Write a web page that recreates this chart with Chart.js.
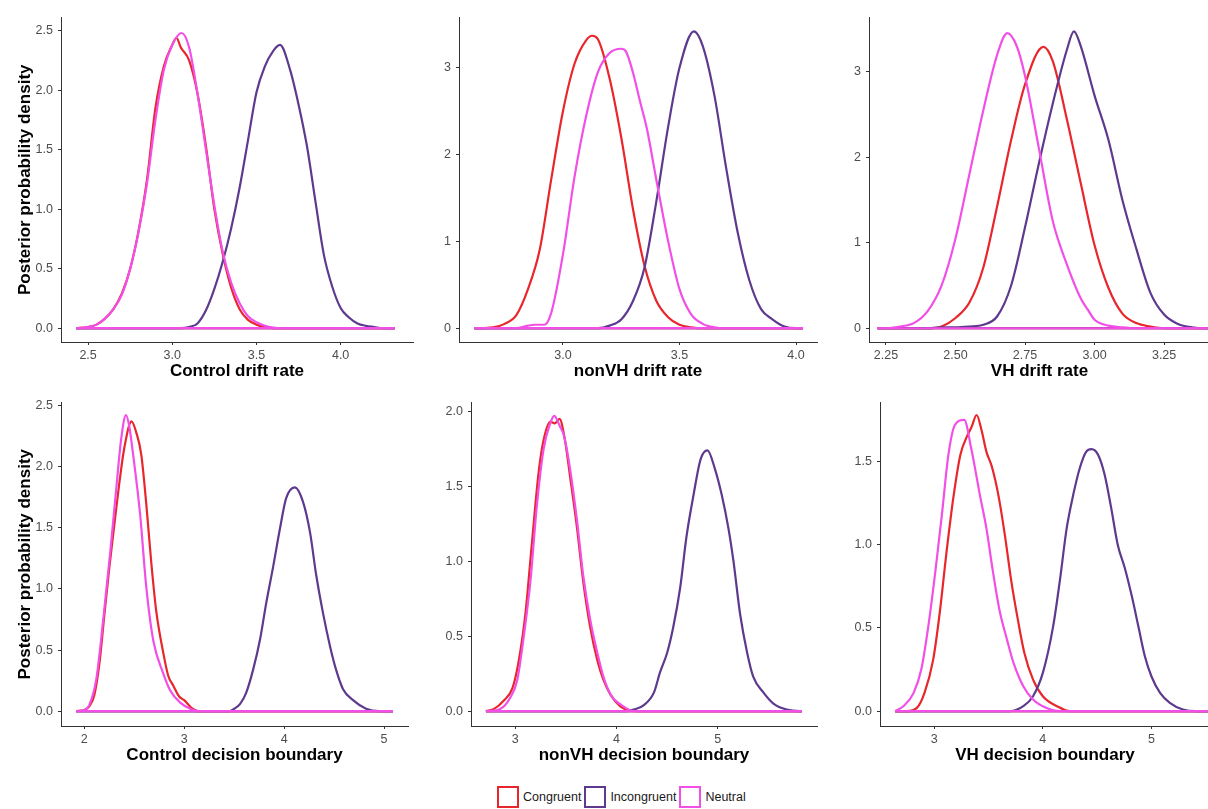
<!DOCTYPE html>
<html>
<head>
<meta charset="utf-8">
<script src="https://cdn.jsdelivr.net/npm/chart.js@4"></script>
<style>
  body { margin: 0; background: #fff; width: 1208px; height: 809px; overflow: hidden; position: relative; font-family: "Liberation Sans", Arial, sans-serif; }
  canvas { position: absolute; }
  #legend { position: absolute; left: 497px; top: 786px; display: flex; align-items: center; font-size: 12.5px; color: #1a1a1a; }
  #legend .box { width: 18px; height: 18px; border: 2.5px solid; margin-right: 4px; }
  #legend .lab { margin-right: 3px; }
</style>
</head>
<body>
<div id="legend"></div>
<script>
// Series order in every panel
const seriesNames = ['Congruent', 'Incongruent', 'Neutral'];
const colors = { Congruent: '#e8262b', Incongruent: '#5e3a8e', Neutral: '#f24fe6' };

// Control drift rate: [x, density]
const controlDriftCongruent = [[2.43,0],[2.50,0.01],[2.55,0.03],[2.60,0.08],[2.65,0.16],[2.70,0.29],[2.75,0.50],[2.80,0.82],[2.85,1.25],[2.90,1.85],[2.95,2.20],[3.00,2.38],[3.025,2.44],[3.05,2.36],[3.10,2.25],[3.15,1.97],[3.20,1.53],[3.25,1.00],[3.30,0.62],[3.35,0.34],[3.40,0.16],[3.45,0.07],[3.50,0.03],[3.55,0.01],[3.60,0],[4.32,0]];
const controlDriftIncongruent = [[2.43,0],[3.05,0],[3.10,0.01],[3.15,0.04],[3.20,0.15],[3.25,0.33],[3.30,0.56],[3.35,0.84],[3.40,1.18],[3.45,1.58],[3.50,1.98],[3.55,2.20],[3.60,2.33],[3.64,2.38],[3.70,2.17],[3.75,1.88],[3.80,1.53],[3.85,1.07],[3.90,0.62],[3.95,0.35],[4.00,0.17],[4.05,0.09],[4.10,0.04],[4.15,0.02],[4.20,0.01],[4.25,0],[4.32,0]];
const controlDriftNeutral = [[2.43,0],[2.50,0.01],[2.55,0.03],[2.60,0.08],[2.65,0.16],[2.70,0.28],[2.75,0.50],[2.80,0.81],[2.85,1.22],[2.90,1.75],[2.95,2.17],[3.00,2.38],[3.055,2.48],[3.10,2.36],[3.15,1.97],[3.20,1.50],[3.25,1.03],[3.30,0.64],[3.35,0.38],[3.40,0.21],[3.45,0.10],[3.50,0.05],[3.55,0.02],[3.60,0.005],[3.65,0],[4.32,0]];

// nonVH drift rate
const nonVHDriftCongruent = [[2.62,0],[2.70,0.01],[2.75,0.05],[2.80,0.15],[2.85,0.45],[2.90,0.9],[2.95,1.72],[3.00,2.5],[3.05,3.05],[3.10,3.32],[3.125,3.37],[3.15,3.33],[3.20,2.88],[3.25,2.2],[3.30,1.38],[3.35,0.72],[3.40,0.32],[3.45,0.13],[3.50,0.04],[3.55,0.01],[3.60,0],[4.03,0]];
const nonVHDriftIncongruent = [[2.62,0],[3.15,0],[3.20,0.03],[3.25,0.1],[3.30,0.31],[3.35,0.7],[3.40,1.45],[3.45,2.3],[3.50,3.0],[3.562,3.42],[3.60,3.25],[3.65,2.68],[3.70,1.85],[3.75,1.1],[3.80,0.55],[3.85,0.22],[3.90,0.1],[3.95,0.02],[4.00,0],[4.03,0]];
const nonVHDriftNeutral = [[2.62,0],[2.80,0],[2.85,0.03],[2.88,0.04],[2.92,0.04],[2.95,0.18],[3.00,0.85],[3.05,1.75],[3.10,2.45],[3.15,2.95],[3.20,3.17],[3.25,3.22],[3.27,3.19],[3.30,2.95],[3.33,2.62],[3.36,2.3],[3.40,1.72],[3.45,1.02],[3.50,0.45],[3.55,0.16],[3.60,0.05],[3.65,0.01],[3.70,0],[4.03,0]];

// VH drift rate
const vhDriftCongruent = [[2.22,0],[2.40,0],[2.45,0.02],[2.50,0.12],[2.55,0.3],[2.60,0.71],[2.65,1.43],[2.70,2.2],[2.75,2.85],[2.816,3.29],[2.85,3.12],[2.90,2.45],[2.95,1.7],[3.00,0.97],[3.05,0.47],[3.10,0.17],[3.15,0.06],[3.20,0.02],[3.25,0],[3.50,0]];
const vhDriftIncongruent = [[2.22,0],[2.40,0],[2.45,0.01],[2.50,0.01],[2.55,0.02],[2.60,0.04],[2.65,0.14],[2.70,0.5],[2.75,1.18],[2.80,1.93],[2.85,2.63],[2.90,3.25],[2.926,3.47],[2.95,3.3],[3.00,2.72],[3.05,2.2],[3.10,1.5],[3.15,0.93],[3.20,0.42],[3.25,0.16],[3.30,0.05],[3.35,0.01],[3.40,0],[3.50,0]];
const vhDriftNeutral = [[2.22,0],[2.25,0],[2.30,0.02],[2.35,0.06],[2.40,0.2],[2.45,0.5],[2.50,1.05],[2.55,1.8],[2.60,2.55],[2.65,3.2],[2.686,3.45],[2.72,3.3],[2.75,2.95],[2.80,2.1],[2.85,1.25],[2.90,0.75],[2.95,0.35],[2.975,0.22],[3.00,0.1],[3.05,0.03],[3.10,0.01],[3.15,0],[3.50,0]];

// Control decision boundary
const controlBoundaryCongruent = [[1.92,0],[2.00,0.01],[2.05,0.04],[2.10,0.13],[2.15,0.38],[2.20,0.78],[2.25,1.17],[2.30,1.52],[2.35,1.86],[2.40,2.15],[2.473,2.37],[2.52,2.28],[2.57,2.1],[2.62,1.7],[2.67,1.22],[2.72,0.82],[2.79,0.48],[2.84,0.29],[2.89,0.21],[2.95,0.12],[3.00,0.09],[3.07,0.03],[3.15,0],[5.09,0]];
const controlBoundaryIncongruent = [[1.92,0],[3.45,0],[3.50,0.02],[3.56,0.06],[3.62,0.15],[3.69,0.34],[3.76,0.59],[3.82,0.88],[3.89,1.18],[3.96,1.5],[4.02,1.74],[4.107,1.83],[4.19,1.71],[4.26,1.46],[4.32,1.12],[4.39,0.8],[4.46,0.53],[4.52,0.34],[4.59,0.18],[4.69,0.09],[4.82,0.02],[4.95,0],[5.09,0]];
const controlBoundaryNeutral = [[1.92,0],[2.00,0.01],[2.05,0.05],[2.12,0.26],[2.19,0.75],[2.26,1.3],[2.32,1.82],[2.37,2.23],[2.417,2.42],[2.45,2.33],[2.49,2.09],[2.56,1.6],[2.62,1.02],[2.69,0.58],[2.79,0.31],[2.86,0.17],[2.96,0.07],[3.06,0.02],[3.15,0],[5.09,0]];

// nonVH decision boundary
const nonVHBoundaryCongruent = [[2.71,0],[2.79,0.015],[2.885,0.07],[2.97,0.15],[3.03,0.32],[3.10,0.65],[3.16,1.09],[3.23,1.59],[3.28,1.81],[3.345,1.93],[3.39,1.92],[3.437,1.95],[3.49,1.81],[3.54,1.57],[3.61,1.22],[3.67,0.87],[3.74,0.56],[3.81,0.34],[3.87,0.21],[3.94,0.11],[4.04,0.03],[4.13,0.005],[4.20,0],[5.83,0]];
const nonVHBoundaryIncongruent = [[2.71,0],[4.10,0],[4.17,0.01],[4.27,0.04],[4.37,0.125],[4.43,0.26],[4.50,0.39],[4.56,0.56],[4.63,0.83],[4.69,1.16],[4.76,1.44],[4.83,1.68],[4.898,1.74],[4.97,1.62],[5.04,1.44],[5.105,1.22],[5.155,1.0],[5.22,0.65],[5.29,0.39],[5.35,0.23],[5.45,0.125],[5.55,0.05],[5.68,0.01],[5.81,0],[5.83,0]];
const nonVHBoundaryNeutral = [[2.71,0],[2.85,0.015],[2.95,0.09],[3.02,0.21],[3.08,0.48],[3.15,0.87],[3.21,1.35],[3.28,1.75],[3.345,1.92],[3.385,1.97],[3.44,1.90],[3.48,1.84],[3.54,1.62],[3.61,1.27],[3.67,0.91],[3.74,0.61],[3.81,0.39],[3.87,0.23],[3.95,0.10],[4.05,0.04],[4.17,0],[5.83,0]];

// VH decision boundary
const vhBoundaryCongruent = [[2.64,0],[2.745,0],[2.84,0.02],[2.91,0.11],[2.99,0.31],[3.05,0.59],[3.11,0.94],[3.175,1.28],[3.24,1.54],[3.30,1.65],[3.345,1.71],[3.39,1.78],[3.435,1.69],[3.48,1.56],[3.53,1.47],[3.59,1.30],[3.65,1.06],[3.71,0.78],[3.77,0.55],[3.83,0.35],[3.91,0.19],[4.00,0.09],[4.13,0.03],[4.25,0],[5.65,0]];
const vhBoundaryIncongruent = [[2.64,0],[3.70,0],[3.82,0.03],[3.91,0.09],[4.00,0.23],[4.095,0.51],[4.156,0.78],[4.22,1.10],[4.28,1.30],[4.34,1.46],[4.40,1.56],[4.448,1.575],[4.51,1.54],[4.57,1.42],[4.63,1.22],[4.69,1.0],[4.755,0.86],[4.82,0.69],[4.88,0.51],[4.94,0.33],[5.00,0.21],[5.08,0.11],[5.17,0.05],[5.29,0.01],[5.41,0],[5.65,0]];
const vhBoundaryNeutral = [[2.64,0],[2.715,0.03],[2.81,0.11],[2.88,0.25],[2.945,0.51],[3.01,0.84],[3.07,1.18],[3.13,1.54],[3.19,1.72],[3.276,1.75],[3.34,1.58],[3.42,1.30],[3.48,1.10],[3.54,0.84],[3.60,0.61],[3.67,0.43],[3.73,0.29],[3.82,0.15],[3.91,0.07],[4.03,0.02],[4.16,0],[5.65,0]];

// Tick labels
const controlDriftXTicks = ['2.5', '3.0', '3.5', '4.0'];
const nonVHDriftXTicks = ['3.0', '3.5', '4.0'];
const vhDriftXTicks = ['2.25', '2.50', '2.75', '3.00', '3.25'];
const boundaryXTicks = ['2', '3', '4', '5'];
const nonVHBoundaryXTicks = ['3', '4', '5'];
const vhBoundaryXTicks = ['3', '4', '5'];
const controlDriftYTicks = ['0.0', '0.5', '1.0', '1.5', '2.0', '2.5'];
const driftYTicks = ['0', '1', '2', '3'];
const controlBoundaryYTicks = ['0.0', '0.5', '1.0', '1.5', '2.0', '2.5'];
const nonVHBoundaryYTicks = ['0.0', '0.5', '1.0', '1.5', '2.0'];
const vhBoundaryYTicks = ['0.0', '0.5', '1.0', '1.5'];

const yTitle = 'Posterior probability density';
const family = '"Liberation Sans", Arial, sans-serif';

// area = chart area [left, top, right, bottom] on the page
const panels = [
    { area: [61, 13, 413, 342], x: [2.339, 4.43], y: [-0.116, 2.61], xTicks: controlDriftXTicks, yTicks: controlDriftYTicks,
      xTitle: 'Control drift rate', showY: true, series: [controlDriftCongruent, controlDriftIncongruent, controlDriftNeutral] },
    { area: [459, 13, 817, 342], x: [2.554, 4.09], y: [-0.159, 3.58], xTicks: nonVHDriftXTicks, yTicks: driftYTicks,
      xTitle: 'nonVH drift rate', showY: false, series: [nonVHDriftCongruent, nonVHDriftIncongruent, nonVHDriftNeutral] },
    { area: [869, 13, 1210, 342], x: [2.189, 3.415], y: [-0.161, 3.633], xTicks: vhDriftXTicks, yTicks: driftYTicks,
      xTitle: 'VH drift rate', showY: false, series: [vhDriftCongruent, vhDriftIncongruent, vhDriftNeutral] },
    { area: [61, 398, 408, 726], x: [1.767, 5.24], y: [-0.121, 2.524], xTicks: boundaryXTicks, yTicks: controlBoundaryYTicks,
      xTitle: 'Control decision boundary', showY: true, series: [controlBoundaryCongruent, controlBoundaryIncongruent, controlBoundaryNeutral] },
    { area: [471, 398, 817, 726], x: [2.5625, 5.98], y: [-0.099, 2.059], xTicks: nonVHBoundaryXTicks, yTicks: nonVHBoundaryYTicks,
      xTitle: 'nonVH decision boundary', showY: false, series: [nonVHBoundaryCongruent, nonVHBoundaryIncongruent, nonVHBoundaryNeutral] },
    { area: [880, 398, 1210, 726], x: [2.5, 5.54], y: [-0.089, 1.855], xTicks: vhBoundaryXTicks, yTicks: vhBoundaryYTicks,
      xTitle: 'VH decision boundary', showY: false, series: [vhBoundaryCongruent, vhBoundaryIncongruent, vhBoundaryNeutral] },
];

const padTop = 8, padRight = 4, yW = 50, xH = 40;

function axisBase(labels) {
    return {
        type: 'linear',
        afterBuildTicks: (s) => { s.ticks = labels.map(t => ({ value: parseFloat(t) })); },
        ticks: { callback: (v, i) => labels[i], font: { size: 12.5, family }, color: '#4d4d4d', maxRotation: 0, autoSkip: false },
        grid: { drawOnChartArea: false, tickLength: 3, color: '#333' },
        border: { color: '#333', width: 1 },
    };
}

function makePanel(p) {
    const canvas = document.createElement('canvas');
    const left = p.area[0] - yW, top = p.area[1] - padTop;
    const w = p.area[2] - left + padRight, h = p.area[3] + xH - top;
    canvas.width = w;
    canvas.height = h;
    canvas.style.left = left + 'px';
    canvas.style.top = top + 'px';
    canvas.style.width = w + 'px';
    canvas.style.height = h + 'px';
    document.body.appendChild(canvas);

    const datasets = [];
    seriesNames.forEach((name, i) => {
        const pts = p.series[i];
        // density outline
        datasets.push({ data: pts, borderColor: colors[name], borderWidth: 2.2, pointRadius: 0,
                        cubicInterpolationMode: 'monotone', fill: false, order: 2 - i });
        // closing baseline of the density polygon
        datasets.push({ data: [[pts[0][0], 0], [pts[pts.length - 1][0], 0]], borderColor: colors[name],
                        borderWidth: 2.2, pointRadius: 0, fill: false, order: 2 - i });
    });

    const xAxis = axisBase(p.xTicks);
    xAxis.min = p.x[0];
    xAxis.max = p.x[1];
    xAxis.ticks.padding = 3;
    xAxis.afterFit = (s) => { s.height = xH; };
    xAxis.title = { display: true, text: p.xTitle, color: '#000', font: { size: 17, weight: 'bold', family }, padding: { top: 0, bottom: 0 } };

    const yAxis = axisBase(p.yTicks);
    yAxis.min = p.y[0];
    yAxis.max = p.y[1];
    yAxis.ticks.padding = 5;
    yAxis.afterFit = (s) => { s.width = yW; };
    yAxis.title = { display: p.showY, text: yTitle, color: '#000', font: { size: 17, weight: 'bold', family }, padding: { top: 4, bottom: 0 } };

    new Chart(canvas, {
        type: 'line',
        data: { datasets },
        options: {
            responsive: false,
            animation: false,
            events: [],
            layout: { padding: { top: padTop, right: padRight, left: 0, bottom: 0 } },
            plugins: { legend: { display: false }, tooltip: { enabled: false } },
            scales: { x: xAxis, y: yAxis },
        },
    });
}

panels.forEach(makePanel);

// Legend
const legend = document.getElementById('legend');
seriesNames.forEach(name => {
    const box = document.createElement('span');
    box.className = 'box';
    box.style.borderColor = colors[name];
    const lab = document.createElement('span');
    lab.className = 'lab';
    lab.textContent = name;
    legend.appendChild(box);
    legend.appendChild(lab);
});
</script>
</body>
</html>
